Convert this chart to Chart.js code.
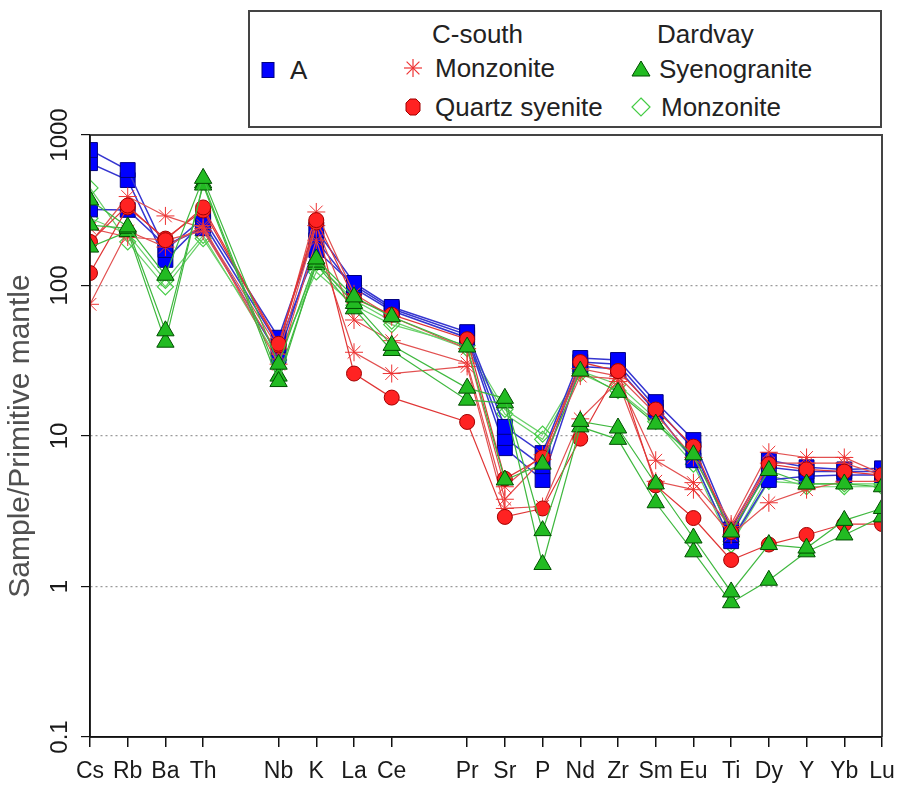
<!DOCTYPE html>
<html>
<head>
<meta charset="utf-8">
<script src="https://cdn.jsdelivr.net/npm/chart.js@4/dist/chart.umd.min.js"></script>
<style>
  html, body { margin: 0; padding: 0; background: #fff; }
  #wrap { position: relative; width: 902px; height: 787px; }
  #legendBox { position: absolute; left: 248px; top: 10px; width: 634px; height: 118px;
    border: 2px solid #444; box-sizing: border-box; background: #fff; }
  .lt { position: absolute; font-family: 'Liberation Sans', Arial, sans-serif; font-size: 26px;
    line-height: 30px; color: #222; white-space: nowrap; }
  .mk { position: absolute; }
</style>
</head>
<body>
<div id="wrap">
  <canvas id="c" width="902" height="787"></canvas>
  <div id="legendBox"></div>
  <div class="lt" style="left:432px;top:19px">C-south</div>
  <div class="lt" style="left:657px;top:19px">Dardvay</div>
  <div class="lt" style="left:290px;top:55px">A</div>
  <div class="lt" style="left:435px;top:53px">Monzonite</div>
  <div class="lt" style="left:659px;top:54px">Syenogranite</div>
  <div class="lt" style="left:435px;top:92px">Quartz syenite</div>
  <div class="lt" style="left:661px;top:92px">Monzonite</div>
  <svg class="mk" style="left:258px;top:60px" width="20" height="20"><rect x="4" y="2.5" width="12" height="15" fill="#0000ff" stroke="#000080" stroke-width="1"/></svg>
  <svg class="mk" style="left:403px;top:58px" width="20" height="20">
    <g stroke="#ee3333" stroke-width="1.2">
      <line x1="10" y1="1" x2="10" y2="19"/><line x1="1" y1="10" x2="19" y2="10"/>
      <line x1="3.6" y1="3.6" x2="16.4" y2="16.4"/><line x1="16.4" y1="3.6" x2="3.6" y2="16.4"/>
    </g></svg>
  <svg class="mk" style="left:403px;top:97px" width="20" height="20"><polygon points="7,2 13,2 17,6 17,14 13,18 7,18 3,14 3,6" fill="#ff2222" stroke="#a00000" stroke-width="1"/></svg>
  <svg class="mk" style="left:631px;top:59px" width="20" height="20"><polygon points="10,2 19,17 1,17" fill="#22bb22" stroke="#004d00" stroke-width="1"/></svg>
  <svg class="mk" style="left:631px;top:97px" width="22" height="22"><polygon points="10,1 19,10 10,19 1,10" fill="none" stroke="#44cc44" stroke-width="1.2"/></svg>
</div>
<script>
// ---- categories (blank entries are spacing gaps on the axis) ----
const categories = ['Cs','Rb','Ba','Th','','Nb','K','La','Ce','','Pr','Sr','P','Nd','Zr','Sm','Eu','Ti','Dy','Y','Yb','Lu'];

// ---- y ticks ----
const yTickValues = [0.1, 1, 10, 100, 1000];
const yTickLabels = ['0.1', '1', '10', '100', '1000'];

// ---- A (blue squares) ----
const seriesA1 = [795, 585, 172, 280, null, 45, 234, 104, 72, null, 49, 11.5, 7.7, 33, 32, 16.8, 9.4, 2.4, 6.9, 6.2, 6.0, 6.1];
const seriesA2 = [650, 502, 148, 262, null, 40, 172, 100, 70, null, 47, 9.7, 6.3, 31, 30, 15.5, 8.2, 2.2, 6.2, 5.8, 5.8, 5.8];
const seriesA3 = [320, 318, 185, 240, null, 34, 200, 96, 68, null, 45, 8.3, 5.1, 29, 28, 14.5, 6.9, 2.0, 5.1, 5.4, 5.5, 5.5];

// ---- C-south Monzonite (asterisks) ----
const seriesCM1 = [190, 390, 290, 240, null, 38, 308, 88, 62, null, 38, 4.6, 7.5, 28, 25, 14, 7.2, 2.6, 7.8, 7.2, 7.2, 5.6];
const seriesCM2 = [240, 210, 200, 230, null, 35, 250, 59, 43, null, 30.5, 3.8, 7.0, 25, 24, 6.9, 4.9, 2.5, 6.6, 6.6, 6.6, 5.5];
const seriesCM3 = [75, 230, 180, 250, null, 30, 200, 36, 26, null, 29, 3.3, 3.4, 13, 23, 5.0, 4.4, 2.2, 3.6, 4.4, 5.0, 5.0];

// ---- C-south Quartz syenite (red circles) ----
const seriesQ1 = [195, 340, 200, 330, null, 41, 272, 82, 64, null, 44, 5.2, 7.2, 31, 27, 15, 8.5, 2.3, 6.5, 6.0, 5.8, 5.5];
const seriesQ2 = [121, 330, 205, 315, null, 40, 262, 26, 18, null, 12.4, 2.9, 3.3, 9.6, 27, 4.7, 2.85, 1.5, 1.9, 2.2, 2.6, 2.6];

// ---- Dardvay Syenogranite (green triangles) ----
const seriesS1 = [370, 245, 117, 515, null, 30, 150, 84, 62, null, 39, 5.1, 6.5, 27, 19.5, 12, 7.5, 2.3, 5.9, 4.8, 4.8, 4.6];
const seriesS2 = [252, 240, 50, 465, null, 23, 143, 76, 40, null, 20.8, 17.8, 2.35, 12.5, 11.3, 4.8, 2.1, 0.92, 1.9, 1.8, 2.75, 3.3];
const seriesS3 = [180, 228, 42, 480, null, 25, 138, 70, 37, null, 17.3, 16.6, 1.4, 11.5, 9.5, 3.6, 1.7, 0.78, 1.1, 1.7, 2.2, 2.9];

// ---- Dardvay Monzonite (hollow diamonds) ----
const seriesDM1 = [445, 195, 98, 205, null, 35, 123, 74, 55, null, 40, 15, 10.3, 27, 22, 13, 7.0, 2.0, 5.5, 4.6, 4.6, 4.6];
const seriesDM2 = [280, 220, 108, 215, null, 32, 140, 80, 58, null, 38, 14, 9.5, 26, 20, 12.5, 6.5, 1.9, 5.0, 4.8, 4.8, 4.8];

const FONT = "'Liberation Sans', Arial, sans-serif";

const styleA  = { pointStyle: 'rect', pointRadius: 10.5, pointBackgroundColor: '#0000ff', pointBorderColor: '#000080', pointBorderWidth: 1, borderColor: '#3535d0', borderWidth: 1.5 };
const styleCM = { pointStyle: 'star', pointRadius: 9, pointBackgroundColor: '#ee3333', pointBorderColor: '#ee3333', pointBorderWidth: 1, borderColor: '#e25050', borderWidth: 1.2 };
const styleQ  = { pointStyle: 'circle', pointRadius: 7.5, pointBackgroundColor: '#ff2222', pointBorderColor: '#a00000', pointBorderWidth: 1, borderColor: '#e03535', borderWidth: 1.2 };
const styleS  = { pointStyle: 'triangle', pointRadius: 10, pointBackgroundColor: '#22bb22', pointBorderColor: '#004d00', pointBorderWidth: 1, borderColor: '#3fb83f', borderWidth: 1.2 };
const styleDM = { pointStyle: 'rectRot', pointRadius: 8, pointBackgroundColor: 'rgba(0,0,0,0)', pointBorderColor: '#44cc44', pointBorderWidth: 1.2, borderColor: '#6ad06a', borderWidth: 1.2 };

function ds(label, data, style) {
  return Object.assign({ label, data, spanGaps: true, fill: false, tension: 0, clip: 0 }, style);
}

const datasets = [
  ds('Syenogranite 1', seriesS1, styleS),
  ds('Syenogranite 2', seriesS2, styleS),
  ds('Syenogranite 3', seriesS3, styleS),
  ds('Quartz syenite 1', seriesQ1, styleQ),
  ds('Quartz syenite 2', seriesQ2, styleQ),
  ds('Monzonite C 1', seriesCM1, styleCM),
  ds('Monzonite C 2', seriesCM2, styleCM),
  ds('Monzonite C 3', seriesCM3, styleCM),
  ds('A 1', seriesA1, styleA),
  ds('A 2', seriesA2, styleA),
  ds('A 3', seriesA3, styleA),
  ds('Monzonite D 1', seriesDM1, styleDM),
  ds('Monzonite D 2', seriesDM2, styleDM)
];

const framePlugin = {
  id: 'frame',
  afterDraw(chart) {
    const { ctx, chartArea: { left, top, right, bottom } } = chart;
    ctx.save();
    ctx.strokeStyle = '#444';
    ctx.lineWidth = 2;
    ctx.beginPath();
    ctx.moveTo(left, top); ctx.lineTo(right, top); ctx.lineTo(right, bottom);
    ctx.stroke();
    ctx.strokeStyle = '#111';
    ctx.lineWidth = 1.5;
    ctx.beginPath();
    ctx.moveTo(left, top); ctx.lineTo(left, bottom); ctx.lineTo(right, bottom);
    ctx.stroke();
    ctx.restore();
  }
};

new Chart(document.getElementById('c'), {
  type: 'line',
  data: { labels: categories, datasets },
  plugins: [framePlugin],
  options: {
    responsive: false,
    animation: false,
    devicePixelRatio: 1,
    layout: { padding: { left: 0, top: 135, right: 20, bottom: 0 } },
    plugins: { legend: { display: false }, tooltip: { enabled: false } },
    scales: {
      x: {
        type: 'category',
        offset: false,
        afterFit(scale) { scale.height = 50; scale.paddingLeft = 0; scale.paddingRight = 0; },
        grid: {
          drawOnChartArea: false,
          offset: false,
          tickLength: 10,
          lineWidth: 1.5,
          tickColor: (ctx) => (categories[ctx.index] === '' ? 'rgba(0,0,0,0)' : '#111')
        },
        border: { display: true, color: '#111', width: 1.5 },
        ticks: { autoSkip: false, maxRotation: 0, minRotation: 0, padding: 11,
          font: { family: FONT, size: 23 }, color: '#1a1a1a' }
      },
      y: {
        type: 'logarithmic',
        min: 0.1,
        max: 1000,
        afterBuildTicks(scale) { scale.ticks = yTickValues.map(v => ({ value: v, major: true })); },
        afterFit(scale) { scale.width = 90; },
        grid: {
          drawOnChartArea: true,
          tickLength: 9,
          lineWidth: 1.2,
          color: (ctx) => {
            const v = ctx.tick && ctx.tick.value;
            return (v === 0.1 || v === 1000) ? 'rgba(0,0,0,0)' : '#9a9a9a';
          },
          tickColor: '#111',
          tickBorderDash: []
        },
        border: { display: true, color: '#111', width: 1.5, dash: [2, 3] },
        ticks: {
          minRotation: 90, maxRotation: 90,
          crossAlign: 'center',
          padding: -6,
          font: { family: FONT, size: 24 }, color: '#1a1a1a',
          callback: (value, index) => yTickLabels[index]
        },
        title: { display: true, text: 'Sample/Primitive mantle', color: '#505050',
          font: { family: FONT, size: 30 }, padding: { top: 3, bottom: 0 } }
      }
    }
  }
});
</script>
</body>
</html>
